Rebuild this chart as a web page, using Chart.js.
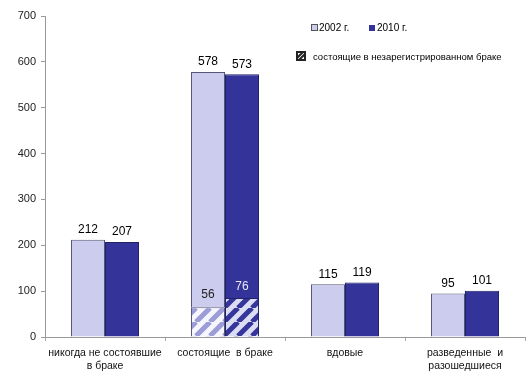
<!DOCTYPE html>
<html>
<head>
<meta charset="utf-8">
<script src="https://cdn.jsdelivr.net/npm/chart.js@4"></script>
<style>
  html, body { margin: 0; padding: 0; background: #fff; }
  #wrap { width: 529px; height: 384px; }
</style>
</head>
<body>
<div id="wrap"><canvas id="chart" width="529" height="384"></canvas></div>
<script>
// Data
const categories = [
    ["никогда не состоявшие", "в браке"],
    "состоящие  в браке",
    "вдовые",
    ["разведенные  и", "разошедшиеся"]
];
const values2002 = [212, 578, 115, 95];
const values2010 = [207, 573, 119, 101];
// unregistered-marriage part (height as drawn) and its printed label
const unreg2002 = [0, 65, 0, 0];
const unreg2010 = [0, 85, 0, 0];
const unregLabels2002 = [null, 56, null, null];
const unregLabels2010 = [null, 76, null, null];
const yTicks = [0, 100, 200, 300, 400, 500, 600, 700];

const FONT = "'Liberation Sans', Arial, sans-serif";
const LIGHT = '#ccccee';
const DARK = '#333399';

function makeHatch(bg, stripe) {
    const n = 14;
    const c = document.createElement('canvas');
    c.width = n; c.height = n;
    const g = c.getContext('2d');
    g.fillStyle = bg;
    g.fillRect(0, 0, n, n);
    g.strokeStyle = stripe;
    g.lineWidth = 5;
    g.beginPath();
    for (let k = -n; k <= 2 * n; k += n) {
        g.moveTo(k, n);
        g.lineTo(k + n, 0);
    }
    g.stroke();
    return g.createPattern(c, 'repeat');
}

const ctx = document.getElementById('chart').getContext('2d');
const hatch2002 = makeHatch('#f6f6fd', '#9c9cd8');
const hatch2010 = makeHatch('#dcdcf2', '#35359c');

// Labels and legend
const labelPlugin = {
    id: 'labels',
    afterDatasetsDraw(chart) {
        const c = chart.ctx;
        c.save();
        c.font = '12px ' + FONT;
        c.textAlign = 'center';
        c.textBaseline = 'bottom';
        c.fillStyle = '#000';
        const y = chart.scales.y;
        const m2002 = chart.getDatasetMeta(1);
        const m2010 = chart.getDatasetMeta(3);
        values2002.forEach((v, i) => {
            c.fillText(v, m2002.data[i].x, y.getPixelForValue(v) - 4);
        });
        values2010.forEach((v, i) => {
            c.fillText(v, m2010.data[i].x, y.getPixelForValue(v) - 4);
        });
        unregLabels2002.forEach((v, i) => {
            if (v == null) return;
            c.fillStyle = '#222';
            c.fillText(v, m2002.data[i].x, y.getPixelForValue(unreg2002[i]) - 7);
        });
        unregLabels2010.forEach((v, i) => {
            if (v == null) return;
            c.fillStyle = '#e8e8f8';
            c.fillText(v, m2010.data[i].x, y.getPixelForValue(unreg2010[i]) - 5);
        });

        // legend
        c.font = '10px ' + FONT;
        c.textAlign = 'left';
        c.textBaseline = 'middle';
        c.fillStyle = LIGHT;
        c.fillRect(311.5, 24.5, 6, 6);
        c.strokeStyle = '#555';
        c.lineWidth = 1;
        c.strokeRect(311.5, 24.5, 6, 6);
        c.fillStyle = '#000';
        c.fillText('2002 г.', 319, 28);
        c.fillStyle = DARK;
        c.fillRect(369, 25, 6, 6);
        c.fillStyle = '#000';
        c.fillText('2010 г.', 377, 28);
        // hatch legend
        c.fillStyle = '#fff';
        c.fillRect(297, 52, 8, 8);
        c.strokeStyle = '#222';
        c.lineWidth = 2;
        c.beginPath();
        c.rect(297, 52, 8, 8);
        c.stroke();
        c.beginPath();
        c.moveTo(297, 58); c.lineTo(303, 52);
        c.moveTo(299, 60); c.lineTo(305, 54);
        c.stroke();
        c.fillStyle = '#000';
        c.font = '9.5px ' + FONT;
        c.fillText('состоящие в незарегистрированном браке', 313, 57);
        c.restore();
    }
};

new Chart(ctx, {
    type: 'bar',
    data: {
        labels: categories,
        datasets: [
            {
                label: 'unreg 2002',
                data: unreg2002,
                stack: 's2002',
                backgroundColor: hatch2002,
                borderColor: '#555577',
                borderWidth: 1
            },
            {
                label: '2002 г.',
                data: values2002.map((v, i) => v - unreg2002[i]),
                stack: 's2002',
                backgroundColor: LIGHT,
                borderColor: '#555577',
                borderWidth: 1
            },
            {
                label: 'unreg 2010',
                data: unreg2010,
                stack: 's2010',
                backgroundColor: hatch2010,
                borderColor: '#222266',
                borderWidth: 1
            },
            {
                label: '2010 г.',
                data: values2010.map((v, i) => v - unreg2010[i]),
                stack: 's2010',
                backgroundColor: DARK,
                borderColor: '#222266',
                borderWidth: 1
            }
        ]
    },
    options: {
        responsive: false,
        animation: false,
        layout: { padding: { top: 16, right: 4, left: 0, bottom: 0 } },
        datasets: {
            bar: { categoryPercentage: 0.567, barPercentage: 1 }
        },
        plugins: {
            legend: { display: false },
            tooltip: { enabled: false }
        },
        scales: {
            x: {
                stacked: true,
                grid: { drawOnChartArea: false, tickLength: 4, color: '#aaa', offset: true },
                border: { color: '#999' },
                ticks: { color: '#111', font: { family: FONT, size: 10.5 }, padding: 6, maxRotation: 0, autoSkip: false },
                afterFit(s) { s.height = 47; }
            },
            y: {
                stacked: true,
                min: 0,
                max: 700,
                afterBuildTicks(s) { s.ticks = yTicks.map(v => ({ value: v })); },
                grid: { drawOnChartArea: false, tickLength: 4, color: '#999' },
                border: { color: '#999' },
                ticks: { color: '#222', font: { family: FONT, size: 11 }, padding: 5 },
                afterFit(s) { s.width = 45; }
            }
        }
    },
    plugins: [labelPlugin]
});
</script>
</body>
</html>
